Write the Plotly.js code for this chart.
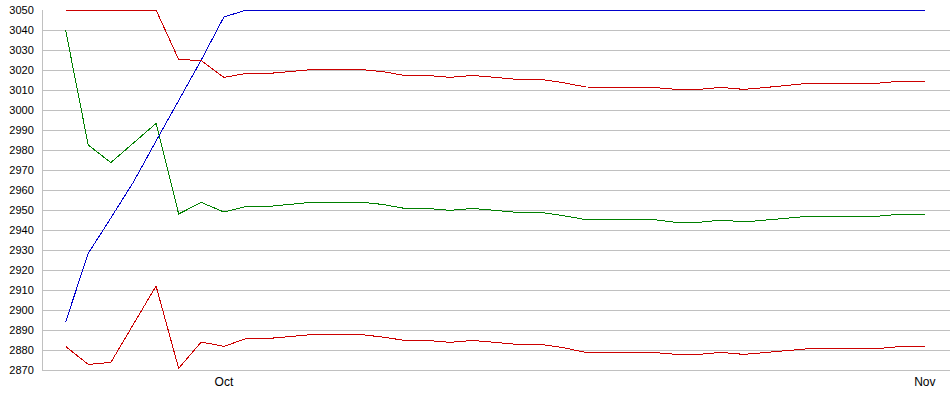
<!DOCTYPE html>
<html>
<head>
<meta charset="utf-8">
<script src="https://cdn.plot.ly/plotly-3.0.1.min.js"></script>
<style>
html,body{margin:0;padding:0;background:#fff;}
#chart{width:950px;height:395px;}
#chart .scatterlayer path.js-line{shape-rendering:crispEdges;}
</style>
</head>
<body>
<div id="chart"></div>
<script>
var dates = [
  '2014-09-24','2014-09-25','2014-09-26','2014-09-27','2014-09-28','2014-09-29','2014-09-30',
  '2014-10-01','2014-10-02','2014-10-03','2014-10-04','2014-10-05','2014-10-06','2014-10-07',
  '2014-10-08','2014-10-09','2014-10-10','2014-10-11','2014-10-12','2014-10-13','2014-10-14',
  '2014-10-15','2014-10-16','2014-10-17','2014-10-18','2014-10-19','2014-10-20','2014-10-21',
  '2014-10-22','2014-10-23','2014-10-24','2014-10-25','2014-10-26','2014-10-27','2014-10-28',
  '2014-10-29','2014-10-30','2014-10-31','2014-11-01'
];

var priceLine = [2894, 2928.3, 2946, 2964, 2984.5, 3004.5, 3025, 3046.5,
  3050, 3050, 3050, 3050, 3050, 3050, 3050, 3050, 3050, 3050, 3050, 3050,
  3050, 3050, 3050, 3050, 3050, 3050, 3050, 3050, 3050, 3050, 3050, 3050,
  3050, 3050, 3050, 3050, 3050, 3050, 3050];

var middleBand = [3040, 2982.5, 2973.7, 2983.5, 2993.3, 2948, 2953.8, 2949,
  2951.8, 2951.8, 2952.8, 2954, 2954, 2954, 2952.8, 2950.8, 2950.8, 2949.8,
  2950.8, 2949.8, 2948.8, 2948.8, 2947.2, 2945.2, 2945.2, 2945.2, 2945.2,
  2943.8, 2943.8, 2945, 2944, 2945, 2946, 2947, 2947, 2947, 2947, 2948, 2948];

var upperBand = [3050, 3050, 3050, 3050, 3050, 3025.3, 3024.7, 3016.3,
  3018.3, 3018.3, 3019.3, 3020.3, 3020.3, 3020.3, 3019.2, 3017.3, 3017.3, 3016.3,
  3017.3, 3016.3, 3015.3, 3015.3, 3013.7, 3011.5, 3011.5, 3011.5, 3011.3,
  3010.3, 3010.3, 3011.3, 3010.3, 3011.3, 3012.3, 3013.5, 3013.5, 3013.5, 3013.5, 3014.5, 3014.5];

var lowerBand = [2881.8, 2872.8, 2873.8, 2893, 2912, 2870.8, 2884, 2881.8,
  2885.8, 2885.8, 2886.8, 2887.8, 2887.8, 2887.8, 2886.5, 2884.8, 2884.8, 2883.8,
  2884.8, 2883.8, 2882.8, 2882.8, 2881.2, 2878.8, 2878.8, 2878.8, 2878.8,
  2877.8, 2877.8, 2878.8, 2877.8, 2878.8, 2879.8, 2880.8, 2880.8, 2880.8, 2880.8, 2881.8, 2881.8];

var yTicks = [2870, 2880, 2890, 2900, 2910, 2920, 2930, 2940, 2950, 2960,
  2970, 2980, 2990, 3000, 3010, 3020, 3030, 3040, 3050];

function line(y, color) {
  return {x: dates, y: y, type: 'scatter', mode: 'lines',
    line: {color: color, width: 1}, hoverinfo: 'skip', cliponaxis: false};
}

var data = [
  line(middleBand, '#008000'),
  line(priceLine, '#0000cc'),
  line(upperBand, '#cc0000'),
  line(lowerBand, '#cc0000')
];

var layout = {
  width: 950, height: 395,
  margin: {l: 43, r: 0, t: 10, b: 25, pad: 0},
  paper_bgcolor: '#ffffff', plot_bgcolor: '#ffffff',
  showlegend: false,
  font: {family: '"Liberation Sans", Arial, sans-serif', size: 11, color: '#000'},
  xaxis: {
    type: 'date',
    range: ['2014-09-23 00:00', '2014-11-02 02:45'],
    tickvals: ['2014-10-01', '2014-11-01'],
    ticktext: ['Oct', 'Nov'],
    showgrid: false, zeroline: false,
    showline: true, linecolor: '#c0c0c0', linewidth: 1, mirror: false,
    ticks: '', ticklabelstandoff: 1,
    tickfont: {size: 12}
  },
  yaxis: {
    range: [2870, 3050],
    tickvals: yTicks,
    ticktext: yTicks.map(String),
    showgrid: true, gridcolor: '#c0c0c0', gridwidth: 1,
    zeroline: false,
    showline: true, linecolor: '#c0c0c0', linewidth: 1,
    ticks: '', ticklabelstandoff: 6
  }
};

Plotly.newPlot('chart', data, layout, {staticPlot: true, displayModeBar: false});
</script>
</body>
</html>
